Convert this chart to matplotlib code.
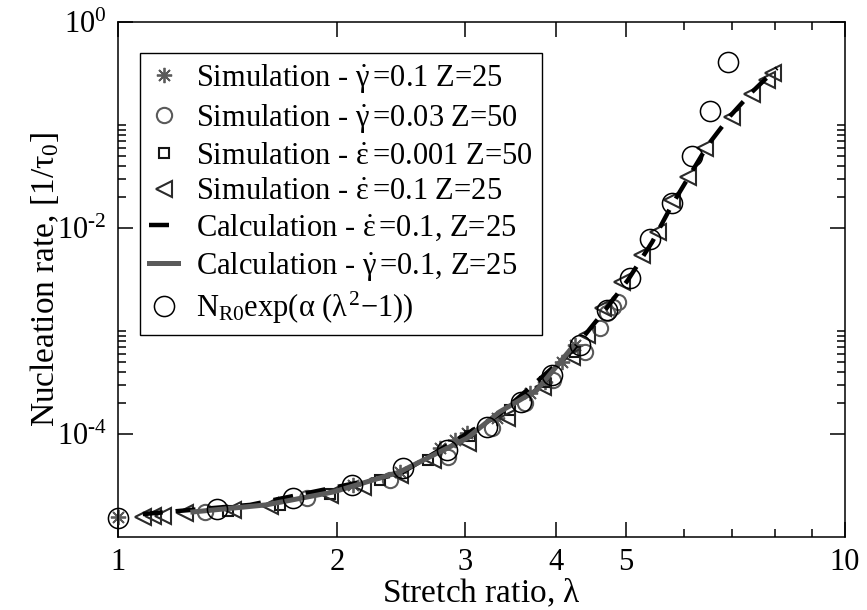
import numpy as np
import matplotlib
matplotlib.use("Agg")
import matplotlib.pyplot as plt
from matplotlib.ticker import FixedLocator, FixedFormatter, NullFormatter

plt.rcParams["font.family"] = ["Liberation Serif", "DejaVu Serif"]
plt.rcParams["mathtext.fontset"] = "custom"
plt.rcParams["mathtext.rm"] = "Liberation Serif"
plt.rcParams["mathtext.it"] = "Liberation Serif"
plt.rcParams["mathtext.bf"] = "Liberation Serif:bold"

# simulation, shear rate 0.1, Z=25 (asterisks)
shear01_x = [1.0, 2.105, 2.443, 2.773, 2.907, 3.02, 3.32, 3.69, 3.87, 4.08, 4.25]
shear01_y = [1.56e-5, 3.2e-5, 4.27e-5, 7.3e-5, 8.7e-5, 1.02e-4, 1.43e-4, 2.5e-4,
             3.2e-4, 5.0e-4, 7.3e-4]

# simulation, shear rate 0.03, Z=50 (small circles)
shear003_x = [1.317, 1.82, 2.366, 2.844, 3.27, 3.63, 3.97, 4.39, 4.60, 4.71, 4.80, 4.87]
shear003_y = [1.75e-5, 2.39e-5, 3.58e-5, 5.98e-5, 1.14e-4, 2.0e-4, 3.34e-4, 6.25e-4,
              1.07e-3, 1.5e-3, 1.71e-3, 1.91e-3]

# simulation, extension rate 0.001, Z=50 (squares)
ext0001_x = [1.417, 1.67, 1.957, 2.293, 2.669, 3.05, 3.46, 3.87, 4.25]
ext0001_y = [1.79e-5, 2.05e-5, 2.61e-5, 3.58e-5, 5.6e-5, 9.6e-5, 1.71e-4, 3.2e-4, 6.25e-4]

# simulation, extension rate 0.1, Z=25 (triangles)
ext01_x = [1.082, 1.117, 1.153, 1.236, 1.439, 1.619, 1.957, 2.173, 2.443, 2.713, 3.03,
           3.43, 3.84, 4.21, 4.42, 4.65, 4.93, 5.26, 5.53, 5.78, 6.08, 6.42, 6.99,
           7.45, 7.81, 7.96]
ext01_y = [1.56e-5, 1.60e-5, 1.60e-5, 1.71e-5, 1.83e-5, 2.0e-5, 2.56e-5, 3.06e-5, 4.0e-5,
           5.6e-5, 8.2e-5, 1.43e-4, 2.86e-4, 5.6e-4, 9.1e-4, 1.67e-3, 2.99e-3, 5.47e-3,
           9.1e-3, 0.0187, 0.0313, 0.0598, 0.12, 0.2, 0.273, 0.32]

# calculation, extension rate 0.1
calc_ext_x = [1.082, 1.52, 2.44, 3.35, 4.22, 4.68, 5.03, 5.43, 5.78, 6.12, 6.48, 6.95,
              7.45, 8.06]
calc_ext_y = [1.67e-5, 2.05e-5, 4.09e-5, 1.56e-4, 6.5e-4, 1.6e-3, 3.13e-3, 7.3e-3,
              0.0167, 0.0327, 0.064, 0.122, 0.209, 0.357]

# calculation, shear rate 0.1
calc_shear_x = [1.268, 1.60, 1.976, 2.44, 3.02, 3.35, 3.77, 4.22]
calc_shear_y = [1.75e-5, 2.05e-5, 2.73e-5, 4.27e-5, 9.1e-5, 1.64e-4, 2.67e-4, 7.0e-4]

# N_R0 exp(alpha (lambda^2 - 1))
fit_x = [1.0, 1.37, 1.74, 2.10, 2.47, 2.835, 3.22, 3.58, 3.95, 4.32, 4.71, 5.06, 5.39,
         5.78, 6.16, 6.52, 6.90]
fit_y = [1.53e-5, 1.87e-5, 2.39e-5, 3.2e-5, 4.68e-5, 7.0e-5, 1.17e-4, 2.04e-4, 3.74e-4,
         7.3e-4, 1.6e-3, 3.27e-3, 7.8e-3, 1.75e-2, 0.050, 0.137, 0.41]

x_major = [1, 2, 3, 4, 5, 10]
x_minor = [6, 7, 8, 9]
y_major = [1e-4, 1e-2, 1.0]
y_labels = [r"10$^{\text{-4}}$", r"10$^{\text{-2}}$", r"10$^{\text{0}}$"]

GRAY = "#5a5a5a"
DARK = "#2a2a2a"

fig = plt.figure(figsize=(8.67, 6.10), dpi=100)
ax = fig.add_axes([0.136, 0.1197, 0.8386, 0.8443])
ax.set_xscale("log")
ax.set_yscale("log")

ax.plot(shear01_x, shear01_y, ls="none", marker=(8, 2, 0), ms=11, mew=1.3,
        color=GRAY, clip_on=False, label=r"Simulation - $\dot{\gamma}\,$=0.1 Z=25")
ax.plot(shear003_x, shear003_y, ls="none", marker="o", ms=11, mew=1.5, mfc="none",
        color=GRAY, label=r"Simulation - $\dot{\gamma}\,$=0.03 Z=50")
ax.plot(ext0001_x, ext0001_y, ls="none", marker="s", ms=7.5, mew=1.5, mfc="none",
        color="#151515", label=r"Simulation - $\dot{\varepsilon}\,$=0.001 Z=50")
ax.plot(ext01_x, ext01_y, ls="none", marker="<", ms=11, mew=1.5, mfc="none",
        color=DARK, label=r"Simulation - $\dot{\varepsilon}\,$=0.1 Z=25")
ax.plot(calc_ext_x, calc_ext_y, ls=(0, (4.5, 2.9)), lw=3.2, color="black",
        label=r"Calculation - $\dot{\varepsilon}\,$=0.1, Z=25")
ax.plot(calc_shear_x, calc_shear_y, ls="-", lw=3.6, color=GRAY,
        label=r"Calculation - $\dot{\gamma}\,$=0.1, Z=25")
ax.plot(fit_x, fit_y, ls="none", marker="o", ms=14.5, mew=1.1, mfc="none",
        color="black", clip_on=False, label=r"N$_{\rm R0}$exp($\alpha$ ($\lambda^2$$-$1))")

ax.set_xlim(1, 10)
ax.set_ylim(1e-5, 1)

ax.xaxis.set_major_locator(FixedLocator(x_major))
ax.xaxis.set_major_formatter(FixedFormatter([str(v) for v in x_major]))
ax.xaxis.set_minor_locator(FixedLocator(x_minor))
ax.xaxis.set_minor_formatter(NullFormatter())

y_minor = [k * 10.0 ** e for e in (-4, -2) for k in range(2, 11)]
ax.yaxis.set_major_locator(FixedLocator(y_major))
ax.yaxis.set_major_formatter(FixedFormatter(y_labels))
ax.yaxis.set_minor_locator(FixedLocator(y_minor))
ax.yaxis.set_minor_formatter(NullFormatter())

ax.tick_params(which="both", direction="in", top=True, right=True, width=1.1,
               labelsize=22, pad=8)
ax.tick_params(which="major", length=10.5)
ax.tick_params(which="minor", length=5.5)
for sp in ax.spines.values():
    sp.set_linewidth(1.1)

ax.set_xlabel(r"Stretch ratio, $\lambda$", fontsize=24, labelpad=0)
ax.set_ylabel(r"Nucleation rate, [1/$\tau_0$]", fontsize=24, labelpad=-3)

leg = ax.legend(loc="upper left", bbox_to_anchor=(0.0303, 0.9398), fontsize=22,
                frameon=True, fancybox=False, framealpha=1, edgecolor="black",
                borderpad=0.3, labelspacing=0.22, handlelength=0.95,
                handletextpad=0.6, borderaxespad=0)
leg.get_frame().set_linewidth(1.0)

fig.savefig("out.png", dpi=100)
